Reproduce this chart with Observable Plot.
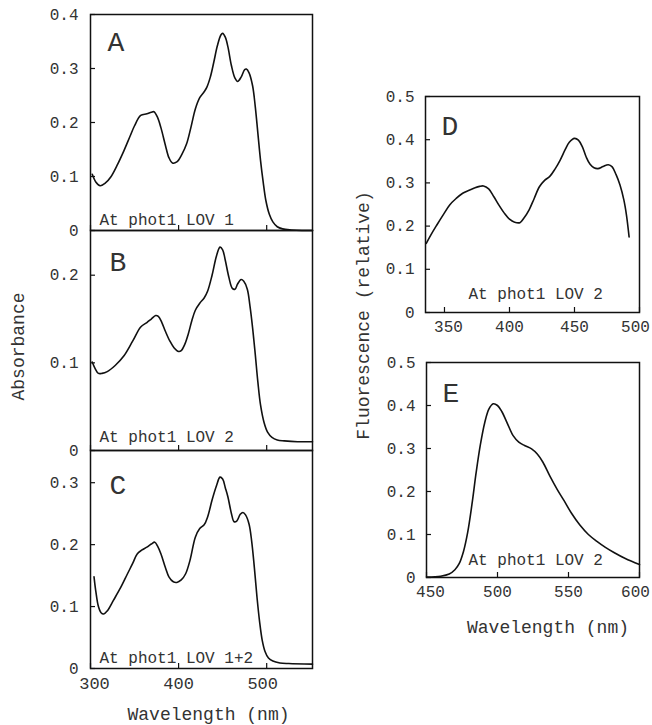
<!DOCTYPE html>
<html>
<head>
<meta charset="utf-8">
<script src="https://cdn.jsdelivr.net/npm/d3@7"></script>
<script src="https://cdn.jsdelivr.net/npm/@observablehq/plot@0.6"></script>
<style>
  html, body { margin: 0; padding: 0; background: #fff; }
  #chart { position: relative; width: 652px; height: 725px; overflow: hidden; }
  #chart svg { position: absolute; }
</style>
</head>
<body>
<div id="chart"></div>
<script>
// ---- Data ----
const wlA = [302,306,311,317,323,330,338,345,350,357,364,369,372,376,380,385,389,393,398,404,409,414,419,424,429,432,436,440,444,448,450,453,456,460,464,467,471,475,477,480,484,487,490,493,496,499,503,507,512,518,528,540,552];
const absA = [0.104,0.090,0.083,0.088,0.099,0.120,0.148,0.175,0.194,0.213,0.216,0.219,0.220,0.210,0.190,0.158,0.135,0.125,0.127,0.142,0.160,0.191,0.225,0.246,0.257,0.265,0.284,0.312,0.342,0.362,0.365,0.358,0.340,0.305,0.282,0.276,0.284,0.298,0.299,0.292,0.268,0.230,0.180,0.130,0.090,0.056,0.030,0.016,0.007,0.003,0.001,0.000,0.000];

const wlB = [302,305,309,313,319,328,338,348,357,364,369,374,377,381,385,390,395,400,403,407,411,415,419,424,429,433,438,443,447,450,453,457,461,464,467,471,474,478,481,484,487,490,493,497,501,506,512,520,535,552];
const absB = [0.101,0.094,0.088,0.088,0.090,0.097,0.108,0.125,0.141,0.146,0.150,0.154,0.153,0.146,0.136,0.125,0.117,0.113,0.114,0.121,0.133,0.148,0.160,0.168,0.174,0.182,0.200,0.222,0.232,0.229,0.217,0.198,0.185,0.184,0.190,0.195,0.193,0.184,0.165,0.140,0.110,0.078,0.052,0.032,0.021,0.015,0.012,0.011,0.010,0.010];

const wlC = [304,306,309,312,315,319,326,334,342,348,353,358,364,369,373,376,380,385,389,394,398,403,408,413,419,424,429,433,438,443,447,450,453,456,460,463,466,470,473,476,480,483,486,489,492,495,498,502,507,515,525,552];
const absC = [0.148,0.125,0.100,0.090,0.088,0.093,0.110,0.130,0.153,0.170,0.185,0.191,0.196,0.201,0.204,0.198,0.185,0.163,0.148,0.140,0.139,0.143,0.153,0.175,0.212,0.226,0.232,0.245,0.272,0.295,0.309,0.306,0.292,0.277,0.250,0.237,0.238,0.249,0.252,0.248,0.233,0.205,0.163,0.115,0.075,0.045,0.028,0.017,0.012,0.009,0.008,0.007];

const wlD = [336,340,344,349,354,359,364,369,373,377,380,384,388,392,396,400,404,408,411,415,419,423,427,431,435,439,443,446,450,453,456,459,462,465,468,472,476,479,482,485,488,490,492];
const fluD = [0.160,0.182,0.202,0.226,0.249,0.264,0.276,0.283,0.288,0.292,0.293,0.286,0.268,0.248,0.230,0.216,0.209,0.208,0.218,0.237,0.264,0.291,0.306,0.315,0.332,0.353,0.378,0.394,0.403,0.399,0.384,0.360,0.343,0.335,0.333,0.338,0.342,0.337,0.319,0.295,0.260,0.225,0.175];

const wlE = [450,460,466,470,473,476,479,482,485,488,491,494,497,500,503,507,511,515,519,524,528,532,537,542,547,552,558,564,570,576,582,590,600];
const fluE = [0.001,0.003,0.008,0.018,0.032,0.060,0.105,0.170,0.245,0.310,0.360,0.392,0.404,0.400,0.386,0.358,0.330,0.315,0.307,0.299,0.287,0.268,0.235,0.205,0.178,0.150,0.122,0.100,0.084,0.070,0.058,0.044,0.030];

// ---- Tick values and labels ----
const xTicksLeft = [300, 400, 500];
const xLabelsLeft = ["300", "400", "500"];
const xTicksD = [350, 400, 450, 500];
const xLabelsD = ["350", "400", "450", "500"];
const xTicksE = [450, 500, 550, 600];
const xLabelsE = ["450", "500", "550", "600"];
const yTicksA = [0, 0.1, 0.2, 0.3, 0.4];
const yLabelsA = ["0", "0.1", "0.2", "0.3", "0.4"];
const yTicksB = [0, 0.1, 0.2];
const yLabelsB = ["0", "0.1", "0.2"];
const yTicksC = [0, 0.1, 0.2, 0.3];
const yLabelsC = ["0", "0.1", "0.2", "0.3"];
const yTicksF = [0, 0.1, 0.2, 0.3, 0.4, 0.5];
const yLabelsF = ["0", "0.1", "0.2", "0.3", "0.4", "0.5"];

const panelLetters = ["A", "B", "C", "D", "E"];
const panelNotes = ["At phot1 LOV 1", "At phot1 LOV 2", "At phot1 LOV 1+2", "At phot1 LOV 2", "At phot1 LOV 2"];
const xTitle = "Wavelength (nm)";
const yTitleLeft = "Absorbance";
const yTitleRight = "Fluorescence (relative)";

const INK = "#111";
const TXT = "#333";
const FONT = "'Liberation Mono', 'DejaVu Sans Mono', monospace";

function fmt(ticks, labels) {
  const m = new Map(ticks.map((t, i) => [t, labels[i]]));
  return d => m.get(d) ?? String(d);
}

function xAxisMarks(ticks, labels, fontSize) {
  // edge labels are nudged inward, as in the reference
  const f = fmt(ticks, labels);
  const first = ticks[0], last = ticks[ticks.length - 1];
  const inner = ticks.slice(1, -1);
  const base = {tickSize: 0, tickPadding: 8, fontSize, label: null, fill: TXT, tickFormat: f};
  return [
    Plot.axisX([first], {...base, dx: 4}),
    Plot.axisX(inner, base),
    Plot.axisX([last], {...base, dx: -4})
  ];
}

function panel(p) {
  const data = p.wl.map((w, i) => ({w, v: p.val[i]}));
  const fw = p.R - p.L, fh = p.B - p.T;
  const mt = 10, mb = p.mb ?? 10;
  const marks = [
    Plot.frame({stroke: INK, strokeWidth: 1.5}),
    Plot.line(data, {x: "w", y: "v", stroke: INK, strokeWidth: 1.6, curve: "catmull-rom"}),
    Plot.tickX(p.xTicks, {x: d => d, insetTop: fh - 5, stroke: INK, strokeWidth: 1.2}),
    Plot.tickY(p.yTicks, {y: d => d, insetRight: fw - 5, stroke: INK, strokeWidth: 1.2}),
    Plot.axisY(p.yTicks, {tickSize: 0, tickPadding: p.yPad ?? 12, fontSize: 16, label: null, fill: TXT, tickFormat: fmt(p.yTicks, p.yLabels)}),
    Plot.text([p.letter], {frameAnchor: "top-left", dx: p.letterDx, dy: p.letterDy, lineAnchor: "middle", textAnchor: "start", fontSize: 28, fill: TXT}),
    Plot.text([p.note], {frameAnchor: "bottom-left", dx: p.noteDx, dy: p.noteDy, lineAnchor: "middle", textAnchor: "start", fontSize: 16, fill: TXT})
  ];
  if (p.xLabels) marks.push(...xAxisMarks(p.xTicks, p.xLabels, p.xFont ?? 17));
  if (p.extra) marks.push(...p.extra);
  const svg = Plot.plot({
    width: p.svgW,
    height: fh + mt + mb,
    marginLeft: p.L - p.svgL,
    marginRight: p.svgL + p.svgW - p.R,
    marginTop: mt,
    marginBottom: mb,
    x: {domain: p.xDomain, axis: p.xLabels ? undefined : null},
    y: {domain: p.yDomain, axis: null},
    style: {fontFamily: FONT, background: "transparent", overflow: "visible", color: TXT},
    marks
  });
  svg.style.left = p.svgL + "px";
  svg.style.top = (p.T - mt) + "px";
  document.getElementById("chart").appendChild(svg);
}

const leftCol = {svgL: 0, svgW: 330, L: 90, R: 312, xDomain: [300, 552], xTicks: xTicksLeft};

panel({...leftCol, T: 14, B: 230, wl: wlA, val: absA, yDomain: [0, 0.4], yTicks: yTicksA, yLabels: yLabelsA,
  letter: panelLetters[0], letterDx: 17, letterDy: 28, note: panelNotes[0], noteDx: 9, noteDy: -11});

panel({...leftCol, T: 230, B: 450, wl: wlB, val: absB, yDomain: [0, 0.251], yTicks: yTicksB, yLabels: yLabelsB,
  letter: panelLetters[1], letterDx: 19, letterDy: 32, note: panelNotes[1], noteDx: 9, noteDy: -14,
  extra: [Plot.text([yTitleLeft], {frameAnchor: "left", dx: -72, dy: 6, rotate: -90, textAnchor: "middle", lineAnchor: "middle", fontSize: 18, fill: TXT})]});

panel({...leftCol, T: 450, B: 668, mb: 60, wl: wlC, val: absC, yDomain: [0, 0.352], yTicks: yTicksC, yLabels: yLabelsC,
  xLabels: xLabelsLeft,
  letter: panelLetters[2], letterDx: 19, letterDy: 35, note: panelNotes[2], noteDx: 9, noteDy: -11,
  extra: [Plot.text([xTitle], {frameAnchor: "bottom", dx: 7, dy: 46, lineAnchor: "middle", textAnchor: "middle", fontSize: 18, fill: TXT})]});

panel({svgL: 340, svgW: 312, L: 425, R: 639, T: 96, B: 312, mb: 30, xDomain: [335.4, 500], xTicks: xTicksD, xLabels: xLabelsD, xFont: 16,
  wl: wlD, val: fluD, yDomain: [0, 0.5], yTicks: yTicksF, yLabels: yLabelsF, yPad: 11,
  letter: panelLetters[3], letterDx: 16, letterDy: 30, note: panelNotes[3], noteDx: 43, noteDy: -19,
  extra: [Plot.text([yTitleRight], {frameAnchor: "bottom-left", dx: -62, dy: 3, rotate: -90, textAnchor: "middle", lineAnchor: "middle", fontSize: 18, fill: TXT})]});

panel({svgL: 340, svgW: 312, L: 426, R: 639, T: 362, B: 577, mb: 60, xDomain: [450, 600], xTicks: xTicksE, xLabels: xLabelsE, xFont: 16,
  wl: wlE, val: fluE, yDomain: [0, 0.5], yTicks: yTicksF, yLabels: yLabelsF, yPad: 11,
  letter: panelLetters[4], letterDx: 16, letterDy: 31, note: panelNotes[4], noteDx: 42, noteDy: -18,
  extra: [Plot.text([xTitle], {frameAnchor: "bottom", dx: 15, dy: 50, lineAnchor: "middle", textAnchor: "middle", fontSize: 18, fill: TXT})]});
</script>
</body>
</html>
